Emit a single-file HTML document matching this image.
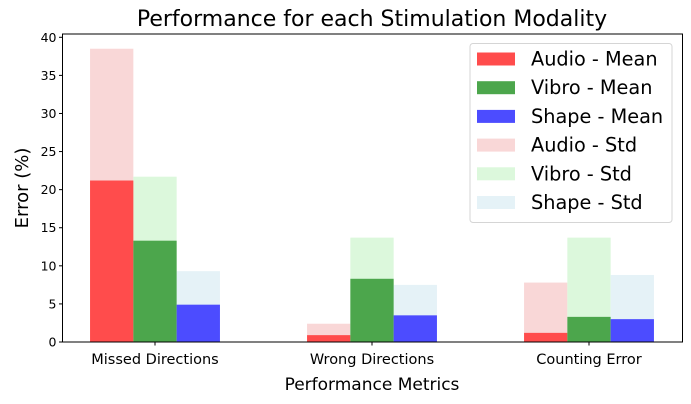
<!DOCTYPE html>
<html><head><meta charset="utf-8"><style>
body{margin:0;background:#fff;}
svg{display:block;font-family:"DejaVu Sans","Liberation Sans",sans-serif;}
</style></head><body>
<svg id="chart" width="691" height="404">
<text x="372" y="26" text-anchor="middle" font-size="22" fill="#000">Performance for each Stimulation Modality</text>
<g id="bars"></g>
<g id="axes"></g>
<text x="372" y="390" text-anchor="middle" font-size="17">Performance Metrics</text>
<text transform="translate(28,188) rotate(-90)" text-anchor="middle" font-size="18">Error  (%)</text>
<g id="legend"></g>
</svg>
<script>
const categories = ["Missed Directions","Wrong Directions","Counting Error"];
const audioMean = [21.2, 0.9, 1.2];
const vibroMean = [13.3, 8.3, 3.3];
const shapeMean = [4.9, 3.5, 3.0];
const audioStd = [38.5, 2.4, 7.8];
const vibroStd = [21.7, 13.7, 13.7];
const shapeStd = [9.3, 7.5, 8.8];
const yTicks = [0,5,10,15,20,25,30,35,40];

const NS="http://www.w3.org/2000/svg";
const L=62.5,R=682.5,T=34,B=342;
const y=v=>B-v*(B-37.3)/40;
const xc=i=>155+i*217;
const bw=43.3;
function mk(tag,attrs,parent){const e=document.createElementNS(NS,tag);for(const k in attrs)e.setAttribute(k,attrs[k]);parent.appendChild(e);return e;}
const bars=document.getElementById('bars'),axes=document.getElementById('axes'),leg=document.getElementById('legend');
const series=[
 {name:"Audio - Mean",data:audioMean,color:"#ff4c4c",off:-1},
 {name:"Vibro - Mean",data:vibroMean,color:"#4ca64c",off:0},
 {name:"Shape - Mean",data:shapeMean,color:"#4c4cff",off:1},
 {name:"Audio - Std",data:audioStd,color:"#f9d7d7",off:-1},
 {name:"Vibro - Std",data:vibroStd,color:"#dcf8dc",off:0},
 {name:"Shape - Std",data:shapeStd,color:"#e5f2f7",off:1}];
[3,4,5,0,1,2].forEach(si=>{const s=series[si];
 s.data.forEach((v,i)=>{const x0=xc(i)+s.off*bw-bw/2;
  const r=mk('rect',{x:x0,y:y(v),width:bw,height:B-y(v),fill:s.color},bars);
  
  
 });});
const frame=mk('rect',{x:L,y:T,width:R-L,height:B-T,fill:"none",stroke:"#000","stroke-width":1},axes);


yTicks.forEach(t=>{mk('line',{x1:L-3.5,x2:L,y1:y(t),y2:y(t),stroke:"#000"},axes);
 const tx=mk('text',{x:L-6,y:y(t)+4.5,"text-anchor":"end","font-size":"12.5"},axes);tx.textContent=t;
 
 });
categories.forEach((c,i)=>{mk('line',{x1:xc(i),x2:xc(i),y1:B,y2:B+3.5,stroke:"#000"},axes);
 const tx=mk('text',{x:xc(i),y:364,"text-anchor":"middle","font-size":"14.5"},axes);tx.textContent=c;
 
 });
mk('rect',{x:470,y:43.5,width:202,height:179,rx:3,fill:"#fff","fill-opacity":0.8,stroke:"#d5d5d5"},leg);
series.forEach((s,k)=>{const cy=59+k*28.7;
 const p=mk('rect',{x:477,y:cy-6.5,width:38,height:13,fill:s.color},leg);
 
 
 const tx=mk('text',{x:531,y:cy+6.5,"font-size":"19.3"},leg);tx.textContent=s.name;
 
 });
</script>
</body></html>
